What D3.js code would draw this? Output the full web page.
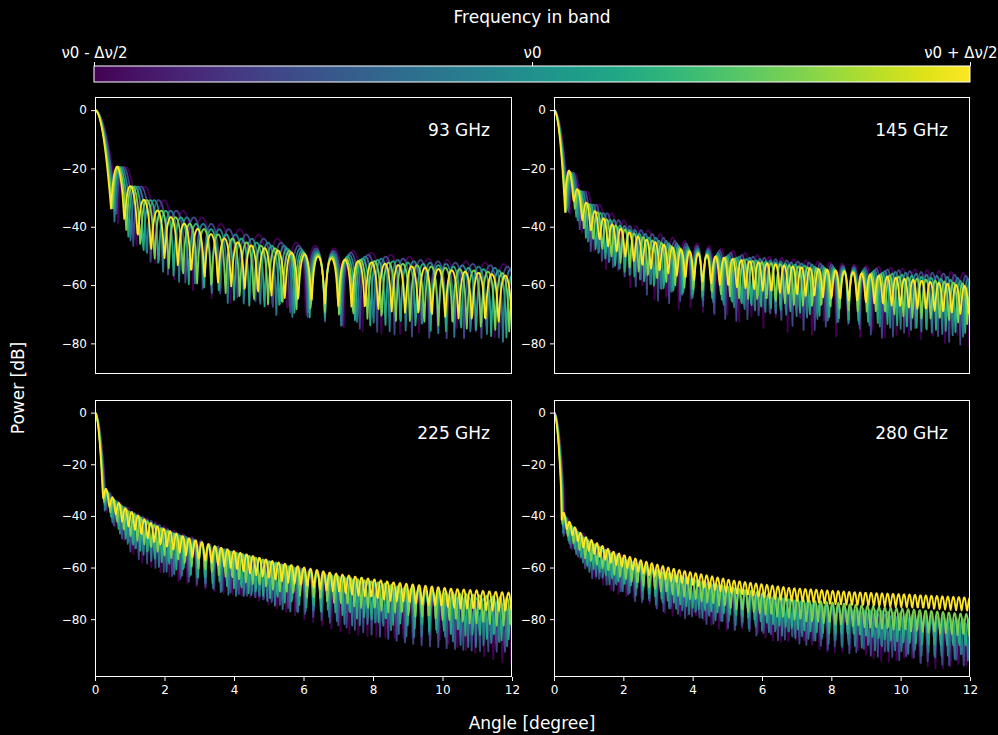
<!DOCTYPE html>
<html>
<head>
<meta charset="utf-8">
<script src="https://cdn.jsdelivr.net/npm/d3@7"></script>
<style>
  body { margin: 0; background: #000; }
  svg { display: block; font-family: "DejaVu Sans", sans-serif; }
</style>
</head>
<body>
<script>
// relative frequency of each drawn line across the band (low -> high)
var bandScale = [0.83, 0.898, 0.966, 1.034, 1.102, 1.17];
var bandPos = [0, 0.2, 0.4, 0.6, 0.8, 1];

// colorbar ticks
var cbTicks = [0, 0.5, 1];
var cbLabels = ["ν0 - Δν/2", "ν0", "ν0 + Δν/2"];

// panels
var panelNames = ["93 GHz", "145 GHz", "225 GHz", "280 GHz"];
var firstNull = [0.54, 0.375, 0.27, 0.25];     // deg, band centre
var lobePeriod = [0.45, 0.29, 0.215, 0.185];   // deg, band centre
var mainEdgeDb = [-34, -35, -34, -33];

// sidelobe crest level (dB) vs angle (deg, scaled to band centre)
var crestAngles93 = [0.6, 0.75, 1, 1.5, 2, 3, 4, 5, 6, 8, 10, 12, 14.5];
var crestDb93 = [-19, -19.5, -24, -29.5, -34, -39, -43, -46, -48, -51, -53, -55, -57.5];
var crestAngles145 = [0.5, 0.8, 1, 1.5, 2, 3, 4, 5, 6, 8, 10, 12, 14.5];
var crestDb145 = [-21.5, -28, -31.5, -36.5, -40, -44.5, -47.5, -50, -51.5, -54, -56, -58.5, -61.5];
var crestAngles225 = [0.35, 0.5, 1, 2, 3, 4, 6, 8, 10, 12, 14.5];
var crestDb225 = [-31, -33.5, -38, -44.5, -49, -52.5, -58.5, -63, -66.5, -69, -71];
var crestAngles280 = [0.3, 0.4, 1, 2, 3, 4, 6, 8, 10, 12, 14.5];
var crestDb280 = [-40, -43, -49.5, -55.5, -59, -62, -66.5, -69.5, -71, -72, -73.5];

// depth of the nulls below the crest (dB) for the lowest line
var depthAngles = [0.3, 1, 3, 12];
var depthDb93 = [20, 24, 27, 28];
var depthDb145 = [14, 20, 25, 26];
var depthDb225 = [8, 18, 20, 22];
var depthDb280 = [8, 15, 17, 18];

// per line: fraction of that depth, and level shift reached at 12 deg
var lineDepth93 = [1, 0.96, 0.9, 0.82, 0.72, 0.58];
var lineDepth145 = [1, 0.92, 0.8, 0.68, 0.52, 0.36];
var lineDepth225 = [1, 0.95, 0.85, 0.7, 0.5, 0.3];
var lineDepth280 = [1, 0.94, 0.8, 0.62, 0.44, 0.2];
var farShift93 = [0, 0, 0, 0, 0, 0];
var farShift145 = [0, 0, 0, 0, 0, 0];
var farShift225 = [-10, -8, -6, -4, -2, 0];
var farShift280 = [-12, -11, -10, -8, -6, 0];

var xTicks = [0, 2, 4, 6, 8, 10, 12];
var yTicks = [0, -20, -40, -60, -80];
var yDomainTop = [-90.5, 4.5];
var yDomainBottom = [-102.4, 4.9];

var panels = [
  { crestA: crestAngles93, crestD: crestDb93, depthD: depthDb93, lineD: lineDepth93, shift: farShift93 },
  { crestA: crestAngles145, crestD: crestDb145, depthD: depthDb145, lineD: lineDepth145, shift: farShift145 },
  { crestA: crestAngles225, crestD: crestDb225, depthD: depthDb225, lineD: lineDepth225, shift: farShift225 },
  { crestA: crestAngles280, crestD: crestDb280, depthD: depthDb280, lineD: lineDepth280, shift: farShift280 }
];

var W = 998, H = 735;
var colX = [95, 554], rowY = [97, 400];
var pw = 417, ph = 277;

var svg = d3.select('body').append('svg')
  .attr('width', W).attr('height', H);
svg.append('rect').attr('width', W).attr('height', H).attr('fill', '#000');

// ---- colorbar
var cb = d3.scaleLinear().domain([0, 1]).range([94, 970]);
var grad = svg.append('defs').append('linearGradient').attr('id', 'vir');
d3.range(0, 1.0001, 0.05).forEach(function(t) {
  grad.append('stop').attr('offset', t).attr('stop-color', d3.interpolateViridis(t));
});
svg.append('rect')
  .attr('x', cb(0)).attr('y', 66)
  .attr('width', cb(1) - cb(0)).attr('height', 16)
  .attr('fill', 'url(#vir)')
  .attr('stroke', '#fff').attr('stroke-width', 1);
var cbAxis = svg.append('g').attr('transform', 'translate(0,66)')
  .call(d3.axisTop(cb).tickValues(cbTicks).tickSize(4).tickPadding(4)
    .tickFormat(function(d, i) { return cbLabels[i]; }));
cbAxis.select('.domain').remove();
cbAxis.selectAll('line').attr('stroke', '#fff');
cbAxis.selectAll('text').attr('fill', '#fff')
  .style('font-size', '15px').style('font-family', 'DejaVu Sans');
// last label would run past the page edge: pin its end to the edge
cbAxis.selectAll('text').filter(function(d) { return d === 1; })
  .attr('text-anchor', 'end').attr('x', W - 1 - cb(1));

svg.append('text').attr('x', 532).attr('y', 23)
  .attr('text-anchor', 'middle').attr('fill', '#fff')
  .style('font-size', '17px').text('Frequency in band');

// ---- beam curves built from the readings above
function beam(p, k, i) {
  var s = bandScale[i];
  var crest = d3.scaleLinear().domain(p.crestA).range(p.crestD).clamp(true);
  var depth = d3.scaleLinear().domain(depthAngles).range(p.depthD).clamp(true);
  var pts = [];
  for (var n = 0; n <= 600; n++) {
    var th = n * 0.02;
    var tn = th * s;
    var u = tn / firstNull[k];
    var v;
    if (u < 1) {
      v = mainEdgeDb[k] * u * u;
    } else {
      var m = Math.abs(Math.sin(Math.PI * (tn - firstNull[k]) / lobePeriod[k]));
      var f = Math.pow(10, -depth(tn) * p.lineD[i] / 20);
      v = crest(tn) + p.shift[i] * th / 12 + 10 * Math.log10(m * m + f * f);
    }
    pts.push([th, v]);
  }
  return pts;
}

panels.forEach(function(p, k) {
  var col = k % 2, row = Math.floor(k / 2);
  var g = svg.append('g').attr('transform', 'translate(' + colX[col] + ',' + rowY[row] + ')');
  var x = d3.scaleLinear().domain([0, 12]).range([0, pw - (col ? 1 : 0)]);
  var y = d3.scaleLinear().domain(row ? yDomainBottom : yDomainTop).range([ph, 0]);

  g.append('clipPath').attr('id', 'clip' + k)
    .append('rect').attr('width', x(12)).attr('height', ph);

  var line = d3.line().x(function(d) { return x(d[0]); }).y(function(d) { return y(d[1]); });
  var lines = g.append('g').attr('clip-path', 'url(#clip' + k + ')');
  bandScale.forEach(function(s, i) {
    lines.append('path')
      .datum(beam(p, k, i))
      .attr('d', line)
      .attr('fill', 'none')
      .attr('stroke', d3.interpolateViridis(bandPos[i]))
      .attr('stroke-width', 1.8)
      .attr('stroke-linejoin', 'round');
  });

  var ya = g.append('g').call(d3.axisLeft(y).tickValues(yTicks).tickSize(4).tickPadding(4));
  ya.select('.domain').remove();
  if (row === 1) {
    var xa = g.append('g').attr('transform', 'translate(0,' + ph + ')')
      .call(d3.axisBottom(x).tickValues(xTicks).tickSize(4).tickPadding(4));
    xa.select('.domain').remove();
  }
  g.selectAll('.tick line').attr('stroke', '#fff');
  g.selectAll('.tick text').attr('fill', '#fff')
    .style('font-size', '12px').style('font-family', 'DejaVu Sans');

  g.append('rect').attr('x', 0.5).attr('y', 0.5).attr('width', x(12) - 1).attr('height', ph - 1)
    .attr('fill', 'none').attr('stroke', '#fff').attr('stroke-width', 1);

  g.append('text').attr('x', x(12) - 22).attr('y', 39)
    .attr('text-anchor', 'end').attr('fill', '#fff')
    .style('font-size', '17px').text(panelNames[k]);
});

svg.append('text').attr('x', 532).attr('y', 729)
  .attr('text-anchor', 'middle').attr('fill', '#fff')
  .style('font-size', '17px').text('Angle [degree]');
svg.append('text')
  .attr('transform', 'translate(24,388) rotate(-90)')
  .attr('text-anchor', 'middle').attr('fill', '#fff')
  .style('font-size', '17px').text('Power [dB]');
</script>
</body>
</html>
